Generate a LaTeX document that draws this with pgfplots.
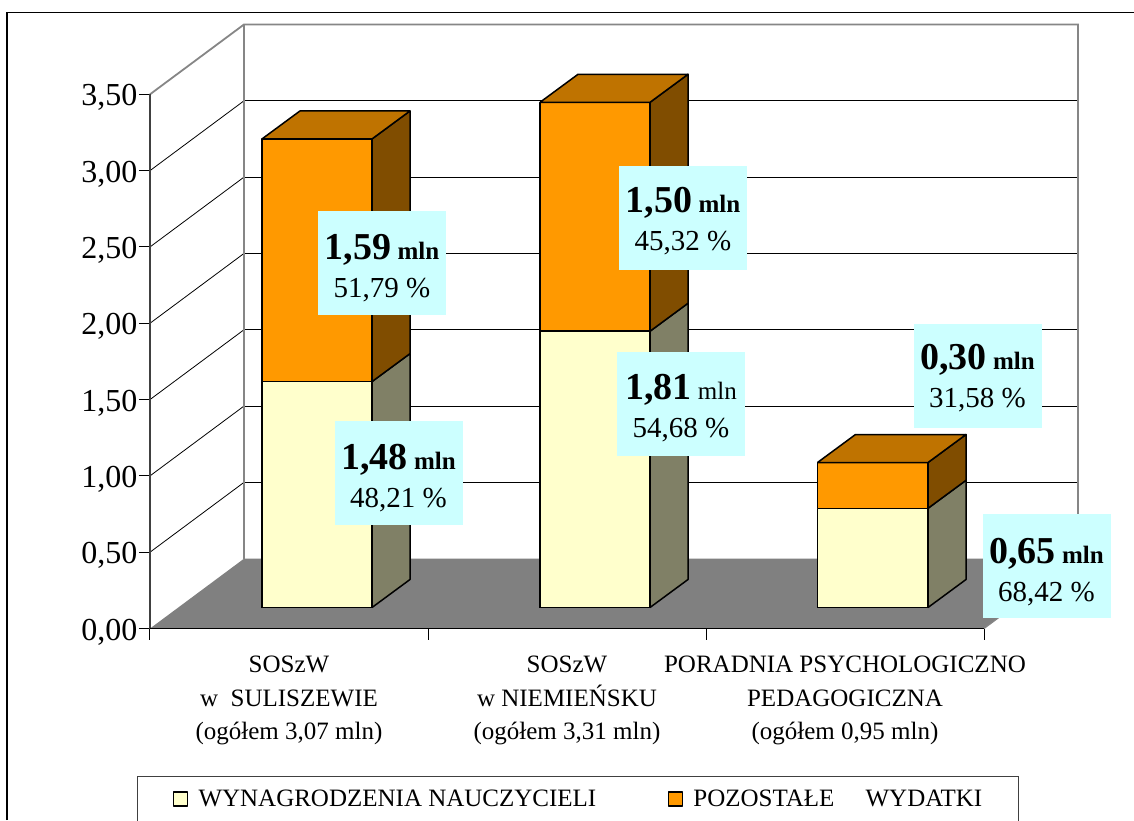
\documentclass[border=0pt]{standalone}
\usepackage{pgfplots}
\pgfplotsset{compat=1.18}
\usepackage{fontspec}
\setmainfont{Liberation Serif}
\definecolor{wall}{HTML}{868686}
\definecolor{floorc}{HTML}{808080}
\definecolor{cream}{HTML}{FFFFCC}
\definecolor{creamside}{HTML}{808066}
\definecolor{orange1}{HTML}{FF9900}
\definecolor{orangetop}{HTML}{BF7300}
\definecolor{orangeside}{HTML}{804D00}
\definecolor{lab}{HTML}{CCFFFF}
\newcommand{\bigv}[2][37pt]{\rule{0pt}{#1}{\fontsize{38}{40}\selectfont\bfseries #2}}
\newcommand{\mlnb}{{\fontsize{25}{30}\selectfont\bfseries\ mln}}
\newcommand{\mlnr}{{\fontsize{25}{30}\selectfont\ mln}}
\newcommand{\pc}[1]{{\fontsize{29}{34}\selectfont #1}}
\tikzset{
  lbl/.style={fill=lab,draw=none,minimum width=128pt,minimum height=104pt,align=center,inner sep=0pt,
              font=\fontsize{27}{38}\selectfont},
  face/.style={draw=black,line width=1.5pt,line join=round}
}
\begin{document}
\begin{tikzpicture}[x=1pt,y=1pt]
\path[use as bounding box] (-150,-191.5) rectangle (984,628.5);
\draw[black,line width=1.2pt] (-143,-191.5) -- (-143,616) -- (984,616);
\begin{axis}[
  at={(0,0)},anchor=south west,
  scale only axis,width=928pt,height=604pt,
  xmin=0,xmax=928,ymin=0,ymax=3.9574,
  clip=false,
  axis line style={draw=none},
  tick align=outside,
  major tick length=11pt,
  tick style={black,line width=1pt},
  ytick pos=left,xtick pos=bottom,
  ytick={0,0.5,1,1.5,2,2.5,3,3.5},
  xtick={0,278,556,834},
  xticklabels={},
  extra x ticks={139,417,695},
  extra x tick labels={{SOSzW\\w\ \ SULISZEWIE\\(ogółem 3,07 mln)},
               {SOSzW\\w NIEMIEŃSKU\\(ogółem 3,31 mln)},
               {PORADNIA\ PSYCHOLOGICZNO\\PEDAGOGICZNA\\(ogółem 0,95 mln)}},
  extra x tick style={major tick length=0pt,
    xticklabel style={align=center,font=\fontsize{25}{33.5}\selectfont,yshift=-24pt}},
  yticklabel style={font=\fontsize{32}{32}\selectfont,xshift=2pt,yshift=-3.5pt,/pgf/number format/.cd,fixed,fixed zerofill,precision=2,use comma,assume math mode=true},
  legend columns=2,
  legend cell align=left,
  legend style={at={(axis cs:-13,-0.9666)},anchor=north west,draw=black!75,line width=1pt,
    font=\fontsize{25}{28}\selectfont,inner xsep=30pt,inner ysep=7.5pt,
    /tikz/every even column/.append style={column sep=60pt},
    nodes={inner sep=6pt}},
  legend image code/.code={\path[draw=none,fill=none] (-6pt,0) -- (19pt,0);\draw[#1,line width=1.2pt] (0pt,-7pt) rectangle (14pt,7pt);},
]
% walls
\addplot[forget plot,fill=white,draw=none] coordinates {(94,0.4574)(928,0.4574)(928,3.9574)(94,3.9574)(94,0.4574)};
\addplot[forget plot,fill=floorc,draw=none] coordinates {(0,0)(94,0.4574)(928,0.4574)(834,0)(0,0)};
% back-wall gridlines
\addplot[forget plot,black,line width=1pt] coordinates {(94,0.9574)(928,0.9574)};
\addplot[forget plot,black,line width=1pt] coordinates {(94,1.4574)(928,1.4574)};
\addplot[forget plot,black,line width=1pt] coordinates {(94,1.9574)(928,1.9574)};
\addplot[forget plot,black,line width=1pt] coordinates {(94,2.4574)(928,2.4574)};
\addplot[forget plot,black,line width=1pt] coordinates {(94,2.9574)(928,2.9574)};
\addplot[forget plot,black,line width=1pt] coordinates {(94,3.4574)(928,3.4574)};
% side-wall gridlines
\addplot[forget plot,black,line width=0.8pt] coordinates {(0,0.5)(94,0.9574)};
\addplot[forget plot,black,line width=0.8pt] coordinates {(0,1)(94,1.4574)};
\addplot[forget plot,black,line width=0.8pt] coordinates {(0,1.5)(94,1.9574)};
\addplot[forget plot,black,line width=0.8pt] coordinates {(0,2)(94,2.4574)};
\addplot[forget plot,black,line width=0.8pt] coordinates {(0,2.5)(94,2.9574)};
\addplot[forget plot,black,line width=0.8pt] coordinates {(0,3)(94,3.4574)};
% wall outline
\addplot[forget plot,wall,line width=1.8pt,line join=miter] coordinates {(0,3.5)(94,3.9574)(928,3.9574)(928,0.4574)};
\addplot[forget plot,wall,line width=1.8pt] coordinates {(94,0.4574)(94,3.9574)};
\addplot[forget plot,wall,line width=1.2pt] coordinates {(928,0.4574)(834,0)};
% axis lines
\addplot[forget plot,black!75,line width=1.4pt] coordinates {(0,0)(0,3.5)};
\addplot[forget plot,black,line width=1.2pt] coordinates {(0,0)(834,0)};

% bar 1: 1.48 + 1.59 = 3.07
\addplot[face,fill=cream] coordinates {(112,0.1376)(222,0.1376)(222,1.6176)(112,1.6176)(112,0.1376)};
\addlegendentry{WYNAGRODZENIA\ NAUCZYCIELI}
\addplot[face,fill=orange1] coordinates {(112,1.6176)(222,1.6176)(222,3.2076)(112,3.2076)(112,1.6176)};
\addlegendentry{POZOSTAŁE\ \ \ \ \ WYDATKI}
\addplot[forget plot,face,fill=creamside] coordinates {(222,0.1376)(260,0.3211)(260,1.8011)(222,1.6176)(222,0.1376)};
\addplot[forget plot,face,fill=orangeside] coordinates {(222,1.6176)(260,1.8011)(260,3.3911)(222,3.2076)(222,1.6176)};
\addplot[forget plot,face,fill=orangetop] coordinates {(112,3.2076)(222,3.2076)(260,3.3911)(150,3.3911)(112,3.2076)};
% bar 2: 1.81 + 1.50 = 3.31
\addplot[forget plot,face,fill=cream] coordinates {(390,0.1376)(500,0.1376)(500,1.9476)(390,1.9476)(390,0.1376)};
\addplot[forget plot,face,fill=orange1] coordinates {(390,1.9476)(500,1.9476)(500,3.4476)(390,3.4476)(390,1.9476)};
\addplot[forget plot,face,fill=creamside] coordinates {(500,0.1376)(538,0.3211)(538,2.1311)(500,1.9476)(500,0.1376)};
\addplot[forget plot,face,fill=orangeside] coordinates {(500,1.9476)(538,2.1311)(538,3.6311)(500,3.4476)(500,1.9476)};
\addplot[forget plot,face,fill=orangetop] coordinates {(390,3.4476)(500,3.4476)(538,3.6311)(428,3.6311)(390,3.4476)};
% bar 3: 0.65 + 0.30 = 0.95
\addplot[forget plot,face,fill=cream] coordinates {(667.5,0.1376)(778,0.1376)(778,0.7876)(667.5,0.7876)(667.5,0.1376)};
\addplot[forget plot,face,fill=orange1] coordinates {(667.5,0.7876)(778,0.7876)(778,1.0876)(667.5,1.0876)(667.5,0.7876)};
\addplot[forget plot,face,fill=creamside] coordinates {(778,0.1376)(816,0.3211)(816,0.9711)(778,0.7876)(778,0.1376)};
\addplot[forget plot,face,fill=orangeside] coordinates {(778,0.7876)(816,0.9711)(816,1.2711)(778,1.0876)(778,0.7876)};
\addplot[forget plot,face,fill=orangetop] coordinates {(667.5,1.0876)(778,1.0876)(816,1.2711)(705.5,1.2711)(667.5,1.0876)};
% value labels
\node[lbl] at (axis cs:232,2.398) {\bigv{1,59}\mlnb\\\pc{51,79 \%}};
\node[lbl] at (axis cs:248.5,1.022) {\bigv{1,48}\mlnb\\\pc{48,21 \%}};
\node[lbl] at (axis cs:533,2.687) {\bigv[31pt]{1,50}\mlnb\\\pc{45,32 \%}};
\node[lbl] at (axis cs:531,1.471) {\bigv[33pt]{1,81}\mlnr\\\pc{54,68 \%}};
\node[lbl] at (axis cs:827.5,1.655) {\bigv[29pt]{0,30}\mlnb\\\pc{31,58 \%}};
\node[lbl] at (axis cs:896.5,0.41) {\bigv{0,65}\mlnb\\\pc{68,42 \%}};
\end{axis}
\end{tikzpicture}
\end{document}
